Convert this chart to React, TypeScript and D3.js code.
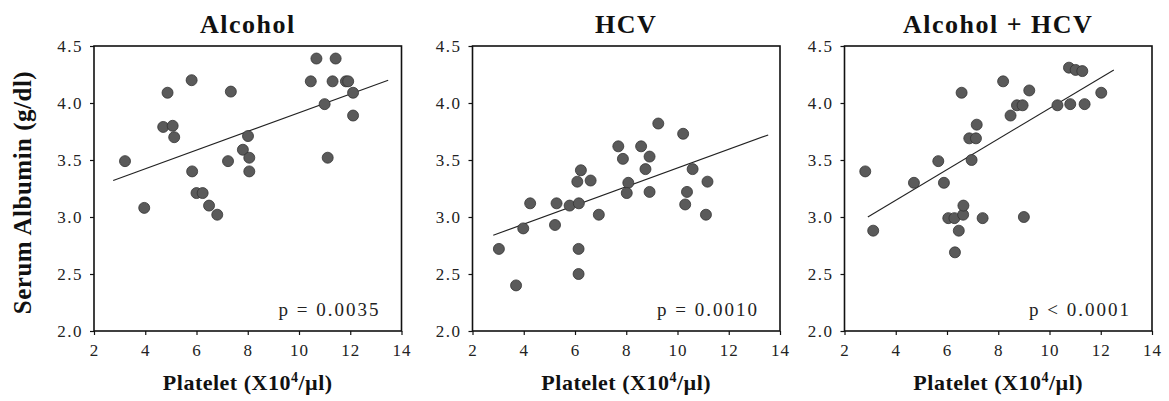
import * as d3 from "d3";
import { useEffect, useRef } from "react";

const WIDTH = 1169;
const HEIGHT = 401;
const FONT = "'Liberation Serif', 'Times New Roman', serif";

// panel titles and p-value labels
const titles = ["Alcohol", "HCV", "Alcohol + HCV"];
const pLabels = ["p = 0.0035", "p = 0.0010", "p < 0.0001"];

// axis ticks
const xTicks = [2, 4, 6, 8, 10, 12, 14];
const yTicks = [2.0, 2.5, 3.0, 3.5, 4.0, 4.5];

// Alcohol
const alcoholX = [3.21, 4.87, 4.7, 5.07, 5.13, 5.81, 5.83, 6.0, 6.24, 7.34, 7.23, 8.01, 7.81, 8.06, 8.06,
  10.68, 11.43, 10.46, 11.31, 11.83, 11.92, 12.11, 11.0, 12.11, 11.12, 3.96, 6.49, 6.81];
const alcoholY = [3.49, 4.09, 3.79, 3.8, 3.7, 4.2, 3.4, 3.21, 3.21, 4.1, 3.49, 3.71, 3.59, 3.52, 3.4,
  4.39, 4.39, 4.19, 4.19, 4.19, 4.19, 4.09, 3.99, 3.89, 3.52, 3.08, 3.1, 3.02];

// HCV
const hcvX = [9.25, 10.22, 7.69, 8.58, 7.87, 8.91, 8.75, 10.59, 6.23, 6.09, 6.61, 8.08, 11.17, 8.02, 8.91,
  10.37, 4.25, 5.28, 5.79, 6.15, 6.93, 10.3, 11.11, 3.98, 5.22, 3.03, 6.14, 6.14, 3.7];
const hcvY = [3.82, 3.73, 3.62, 3.62, 3.51, 3.53, 3.42, 3.42, 3.41, 3.31, 3.32, 3.3, 3.31, 3.21, 3.22,
  3.22, 3.12, 3.12, 3.1, 3.12, 3.02, 3.11, 3.02, 2.9, 2.93, 2.72, 2.72, 2.5, 2.4];

// Alcohol + HCV
const bothX = [2.81, 4.71, 5.88, 5.66, 6.96, 6.57, 6.87, 7.13, 7.16, 8.19, 8.48, 8.73, 8.95, 9.21, 10.31,
  10.81, 11.37, 12.02, 10.76, 11.02, 11.28, 3.12, 6.05, 6.29, 6.63, 6.64, 6.46, 6.31, 7.39, 9.0];
const bothY = [3.4, 3.3, 3.3, 3.49, 3.5, 4.09, 3.69, 3.69, 3.81, 4.19, 3.89, 3.98, 3.98, 4.11, 3.98,
  3.99, 3.99, 4.09, 4.31, 4.29, 4.28, 2.88, 2.99, 2.99, 3.02, 3.1, 2.88, 2.69, 2.99, 3.0];

// regression lines (start / end in data units)
const lineX = [[2.75, 13.48], [2.81, 13.54], [2.91, 12.51]];
const lineY = [[3.32, 4.2], [2.84, 3.72], [3.0, 4.29]];

const panelX = [alcoholX, hcvX, bothX];
const panelY = [alcoholY, hcvY, bothY];

const PANEL_LEFT = [94, 472.5, 844.5];
const PANEL_W = 307.5;
const TOP = 46;
const BOTTOM = 331;

const App = () => {
  const svgRef = useRef(null);

  useEffect(() => {
    const svg = d3.select(svgRef.current);
    svg.selectAll("*").remove();

    svg.append("rect").attr("width", WIDTH).attr("height", HEIGHT).attr("fill", "#fff");

    titles.forEach((title, i) => {
      const left = PANEL_LEFT[i];
      const x = d3.scaleLinear().domain([2, 14]).range([left, left + PANEL_W]);
      const y = d3.scaleLinear().domain([2, 4.5]).range([BOTTOM, TOP]);
      const g = svg.append("g");

      // y axis
      const yAxis = g
        .append("g")
        .attr("transform", `translate(${left},0)`)
        .call(d3.axisLeft(y).tickValues(yTicks).tickFormat(d3.format(".1f")).tickSize(4).tickPadding(7));
      yAxis.select(".domain").remove();
      yAxis.selectAll("line").attr("stroke", "#111").attr("stroke-width", 1.2);
      yAxis
        .selectAll("text")
        .attr("font-family", FONT)
        .attr("font-size", 17)
        .attr("letter-spacing", 1.5)
        .attr("fill", "#222");

      // x axis
      const xAxis = g
        .append("g")
        .attr("transform", `translate(0,${BOTTOM})`)
        .call(d3.axisBottom(x).tickValues(xTicks).tickSize(4).tickPadding(9));
      xAxis.select(".domain").remove();
      xAxis.selectAll("line").attr("stroke", "#111").attr("stroke-width", 1.2);
      xAxis
        .selectAll("text")
        .attr("font-family", FONT)
        .attr("font-size", 17)
        .attr("letter-spacing", 1)
        .attr("fill", "#222");

      // frame
      g.append("rect")
        .attr("x", left)
        .attr("y", TOP)
        .attr("width", PANEL_W)
        .attr("height", BOTTOM - TOP)
        .attr("fill", "none")
        .attr("stroke", "#111")
        .attr("stroke-width", 1.6);

      // regression line
      g.append("line")
        .attr("x1", x(lineX[i][0]))
        .attr("y1", y(lineY[i][0]))
        .attr("x2", x(lineX[i][1]))
        .attr("y2", y(lineY[i][1]))
        .attr("stroke", "#222")
        .attr("stroke-width", 1.1);

      // points
      const pts = panelX[i].map((v, j) => ({ x: v, y: panelY[i][j] }));
      g.selectAll("circle")
        .data(pts)
        .enter()
        .append("circle")
        .attr("cx", (d) => x(d.x))
        .attr("cy", (d) => y(d.y))
        .attr("r", 5.5)
        .attr("fill", "#5a5a5a")
        .attr("stroke", "#333")
        .attr("stroke-width", 0.8);

      // title
      g.append("text")
        .attr("x", left + PANEL_W / 2)
        .attr("y", 33)
        .attr("text-anchor", "middle")
        .attr("font-family", FONT)
        .attr("font-size", 26)
        .attr("font-weight", "bold")
        .attr("letter-spacing", 1.5)
        .attr("fill", "#111")
        .text(title);

      // p value
      g.append("text")
        .attr("x", left + PANEL_W - 21)
        .attr("y", 316)
        .attr("text-anchor", "end")
        .attr("font-family", FONT)
        .attr("font-size", 19)
        .attr("letter-spacing", 2)
        .attr("fill", "#222")
        .text(pLabels[i]);

      // x title
      const xt = g
        .append("text")
        .attr("x", left + PANEL_W / 2)
        .attr("y", 390)
        .attr("text-anchor", "middle")
        .attr("font-family", FONT)
        .attr("font-size", 22)
        .attr("font-weight", "bold")
        .attr("letter-spacing", 0.5)
        .attr("fill", "#111");
      xt.append("tspan").text("Platelet (X10");
      xt.append("tspan").attr("dy", -8).attr("font-size", 14).text("4");
      xt.append("tspan").attr("dy", 8).text("/\u00b5l)");
    });

    // y title
    svg
      .append("text")
      .attr("transform", `translate(31,${(TOP + BOTTOM) / 2 + 4}) rotate(-90)`)
      .attr("text-anchor", "middle")
      .attr("font-family", FONT)
      .attr("font-size", 25)
      .attr("font-weight", "bold")
      .attr("letter-spacing", 0.5)
      .attr("fill", "#111")
      .text("Serum Albumin (g/dl)");
  }, []);

  return (
    <svg
      ref={svgRef}
      width={WIDTH}
      height={HEIGHT}
      style={{ position: "absolute", left: 0, top: 0 }}
    />
  );
};

export default App;
